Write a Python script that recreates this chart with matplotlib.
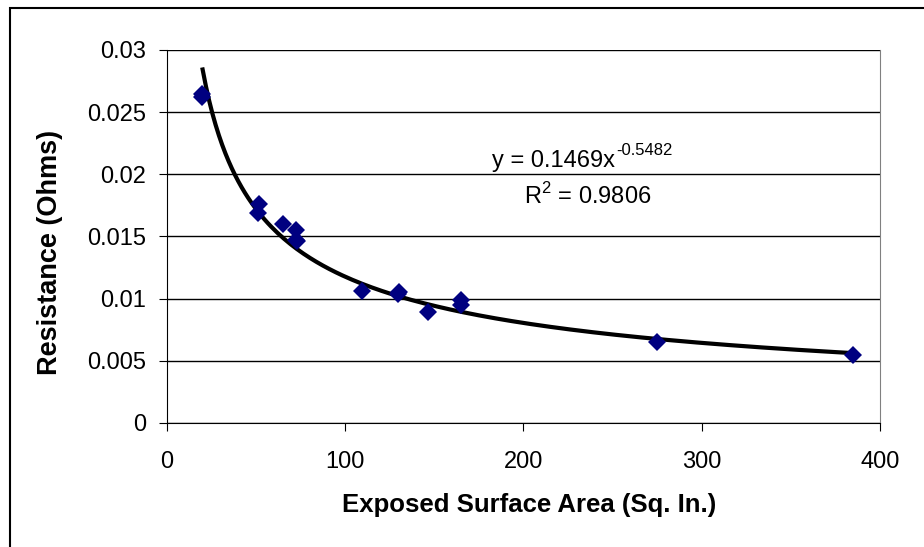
import numpy as np
import matplotlib.pyplot as plt
from matplotlib.patches import Rectangle

plt.rcParams['font.family'] = ['Liberation Sans', 'DejaVu Sans']

# measured points
area = [19.5, 19.8, 51.5, 51.0, 65.0, 72.5, 72.5, 72.8, 109.5, 130.0, 129.5, 146.5, 165.0, 165.0, 275.0, 385.0]
resistance = [0.0265, 0.0262, 0.0176, 0.0169, 0.0160, 0.0155, 0.0147, 0.0146, 0.0106, 0.0105, 0.0104, 0.0089, 0.0099, 0.0095, 0.0065, 0.0055]

# power trendline
coef = 0.1469
expo = -0.5482
x_fit = np.linspace(20, 383, 200)
y_fit = coef * x_fit ** expo

fig = plt.figure(figsize=(9.24, 5.47), dpi=100)
ax = fig.add_axes([0.1807, 0.2267, 0.7717, 0.6819])

ax.plot(x_fit, y_fit, color='black', lw=3, zorder=2)
ax.plot(area, resistance, ls='none', marker='D', ms=9, color='#000080', mec='#000080', mew=0, zorder=3)

ax.set_xlim(0, 400)
ax.set_ylim(0, 0.03)
ax.set_xticks([0, 100, 200, 300, 400])
ax.set_yticks([0, 0.005, 0.01, 0.015, 0.02, 0.025, 0.03])
ax.set_yticklabels(['0', '0.005', '0.01', '0.015', '0.02', '0.025', '0.03'])
ax.yaxis.grid(True, color='black', lw=1)
ax.set_axisbelow(True)
ax.tick_params(labelsize=17, length=6, direction='out')
ax.tick_params(axis='x', pad=14)
ax.tick_params(axis='y', pad=9)
ax.spines['right'].set_color('gray')
ax.spines['top'].set_visible(False)

ax.set_xlabel('Exposed Surface Area (Sq. In.)', fontsize=18.5, fontweight='bold')
ax.set_ylabel('Resistance (Ohms)', fontsize=19.5, fontweight='bold')
ax.xaxis.set_label_coords(0.508, -0.188)
ax.yaxis.set_label_coords(-0.146, 0.456)

# trendline equation, exponent as its own text so it keeps the plain hyphen
eq = ax.text(182.3, 0.02058, 'y = 0.1469x', fontsize=17, ha='left', va='baseline')
ax.annotate('-0.5482', xy=(1, 0), xycoords=eq, xytext=(1, 12), textcoords='offset points',
            fontsize=12, ha='left', va='baseline')
ax.text(200.2, 0.0176, r'R$^{\mathdefault{2}}$ = 0.9806', fontsize=17, ha='left', va='baseline')

fig.patches.append(Rectangle((10 / 924, -0.1), 1.2, 1 - 8 / 547 + 0.1, transform=fig.transFigure,
                             fill=False, ec='black', lw=1.5))

fig.savefig('out.png', dpi=100)
